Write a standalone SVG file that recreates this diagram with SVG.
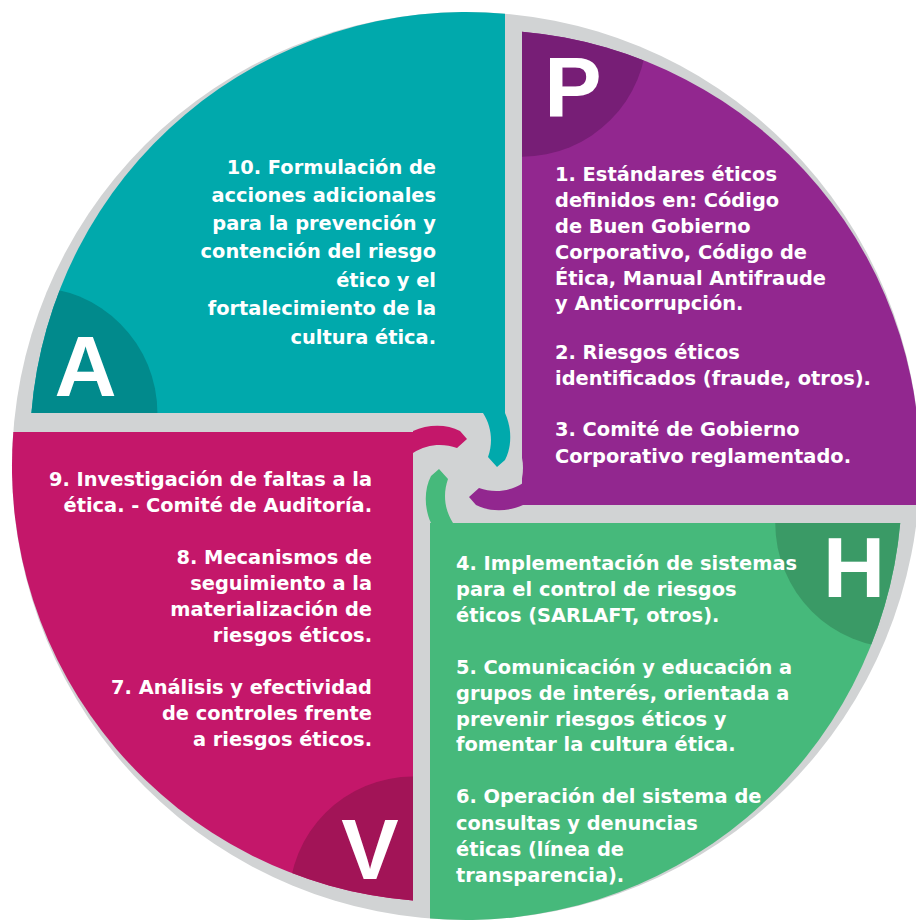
<svg xmlns="http://www.w3.org/2000/svg" width="916" height="920" viewBox="0 0 916 920">
<style>
.t{font-family:"DejaVu Sans","Liberation Sans",sans-serif;font-weight:bold;font-size:19.4px;fill:#fff}
.r{text-anchor:end}
.big{font-family:"Liberation Sans","Arial",sans-serif;font-weight:bold;font-size:86px;fill:#fff;text-anchor:middle}
</style>
<defs>
<clipPath id="ct"><path d="M505,413 L31.4,413 A436,436 0 0,1 505,13.75 Z"/></clipPath>
<clipPath id="cp"><path d="M522,505 L522,31.7 A436,436 0 0,1 918.25,505 Z"/></clipPath>
<clipPath id="cg"><path d="M430,523 L900.25,523 A436,436 0 0,1 430,918.5 Z"/></clipPath>
<clipPath id="cm"><path d="M413,432 L413,900.6 A436,436 0 0,1 13.3,432 Z"/></clipPath>
<path id="hook" d="M483,413 L505,413 C512,428 512,447 505,460 L497,467 L488,457 C493,443 492,427 483,413 Z"/>
</defs>
<rect width="916" height="920" fill="#fff"/>
<circle cx="466" cy="466" r="454" fill="#D1D3D4"/>
<g id="A">
<path d="M505,413 L31.4,413 A436,436 0 0,1 505,13.75 Z" fill="#00A9AC"/>
<circle cx="31.4" cy="413" r="126" fill="#018A8C" clip-path="url(#ct)"/>
<text class="big" x="85.5" y="395.5">A</text>
<text class="t r" x="436" y="174">10. Formulación de</text>
<text class="t r" x="436" y="202">acciones adicionales</text>
<text class="t r" x="436" y="230">para la prevención y</text>
<text class="t r" x="436" y="258">contención del riesgo</text>
<text class="t r" x="436" y="287">ético y el</text>
<text class="t r" x="436" y="315">fortalecimiento de la</text>
<text class="t r" x="436" y="344">cultura ética.</text>
</g>
<g id="P">
<path d="M522,505 L522,31.7 A436,436 0 0,1 918.25,505 Z" fill="#92278F"/>
<circle cx="522" cy="31.7" r="125" fill="#771E76" clip-path="url(#cp)"/>
<text class="big" x="573" y="117">P</text>
<text class="t" x="555" y="181">1. Estándares éticos</text>
<text class="t" x="555" y="207">definidos en: Código</text>
<text class="t" x="555" y="233">de Buen Gobierno</text>
<text class="t" x="555" y="259">Corporativo, Código de</text>
<text class="t" x="555" y="285">Ética, Manual Antifraude</text>
<text class="t" x="555" y="310">y Anticorrupción.</text>
<text class="t" x="555" y="359">2. Riesgos éticos</text>
<text class="t" x="555" y="385">identificados (fraude, otros).</text>
<text class="t" x="555" y="436">3. Comité de Gobierno</text>
<text class="t" x="555" y="463">Corporativo reglamentado.</text>
</g>
<g id="H">
<path d="M430,523 L900.25,523 A436,436 0 0,1 430,918.5 Z" fill="#46B97B"/>
<circle cx="900.25" cy="523" r="125" fill="#3A9A66" clip-path="url(#cg)"/>
<text class="big" x="854" y="597">H</text>
<text class="t" x="456" y="570">4. Implementación de sistemas</text>
<text class="t" x="456" y="596">para el control de riesgos</text>
<text class="t" x="456" y="622">éticos (SARLAFT, otros).</text>
<text class="t" x="456" y="674">5. Comunicación y educación a</text>
<text class="t" x="456" y="700">grupos de interés, orientada a</text>
<text class="t" x="456" y="726">prevenir riesgos éticos y</text>
<text class="t" x="456" y="751">fomentar la cultura ética.</text>
<text class="t" x="456" y="803">6. Operación del sistema de</text>
<text class="t" x="456" y="830">consultas y denuncias</text>
<text class="t" x="456" y="856">éticas (línea de</text>
<text class="t" x="456" y="882">transparencia).</text>
</g>
<g id="V">
<path d="M413,432 L413,900.6 A436,436 0 0,1 13.3,432 Z" fill="#C4176A"/>
<circle cx="413" cy="900.6" r="124" fill="#A21457" clip-path="url(#cm)"/>
<text class="big" x="370" y="879">V</text>
<text class="t r" x="372" y="486">9. Investigación de faltas a la</text>
<text class="t r" x="372" y="512">ética. - Comité de Auditoría.</text>
<text class="t r" x="372" y="564">8. Mecanismos de</text>
<text class="t r" x="372" y="590">seguimiento a la</text>
<text class="t r" x="372" y="616">materialización de</text>
<text class="t r" x="372" y="642">riesgos éticos.</text>
<text class="t r" x="372" y="694">7. Análisis y efectividad</text>
<text class="t r" x="372" y="720">de controles frente</text>
<text class="t r" x="372" y="746">a riesgos éticos.</text>
</g>
<g id="center">
<circle cx="468" cy="468" r="55" fill="#D1D3D4"/>
<use href="#hook" fill="#00A9AC"/>
<use href="#hook" fill="#92278F" transform="rotate(90 468 468)"/>
<use href="#hook" fill="#46B97B" transform="rotate(180 468 468)"/>
<use href="#hook" fill="#C4176A" transform="rotate(270 468 468)"/>
</g>
</svg>
